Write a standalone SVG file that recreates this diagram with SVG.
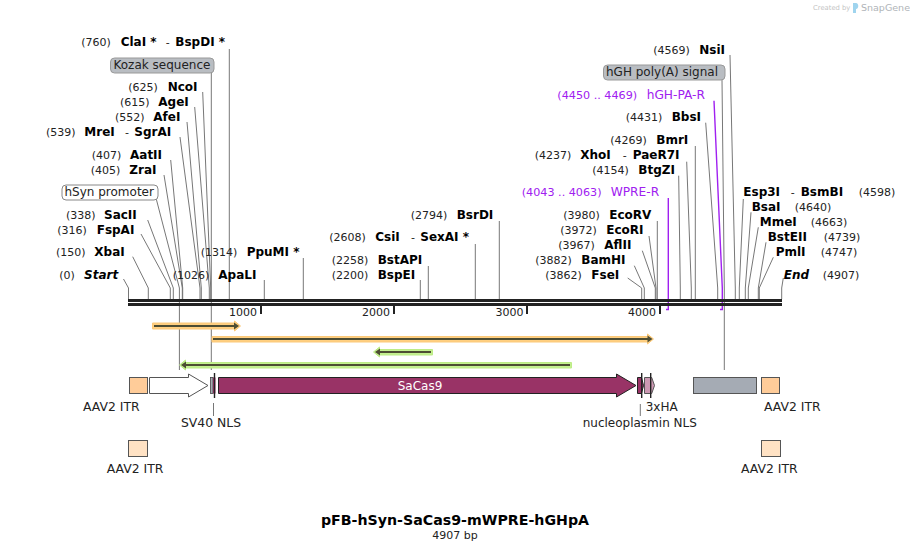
<svg xmlns="http://www.w3.org/2000/svg" width="910" height="551" viewBox="0 0 910 551">
<style>
text{font-family:"DejaVu Sans","Verdana",sans-serif;fill:#111}
.n{font-size:11px;fill:#222}
.b{font-size:12px;font-weight:bold;fill:#000}
.e{font-size:12px;font-weight:bold;font-style:italic;fill:#000}
.f{font-size:12px;fill:#222}
.w{font-size:12.4px;fill:#222}
.p{font-size:12.2px;fill:#a020f0}
.pn{font-size:11.2px;fill:#a020f0}
.c{fill:none;stroke:#777;stroke-width:1}
.cp{fill:none;stroke:#a020f0;stroke-width:1.4}
.o{fill:#ffcf80;stroke:#fbc97a;stroke-width:1}
.g{fill:#c4f08f;stroke:#bdec86;stroke-width:1}
.d{stroke:#4d4d33;stroke-width:2}
.h{fill:#4d4d33}
.s{stroke:#555;stroke-width:1}
.k{stroke:#222;stroke-width:1.4}
</style>
<g id="watermark">
<text x="813" y="10" style="font-size:6.8px;fill:#c4c4c4">Created by</text>
<path d="M853 3h3c3 0 3 6 0 6v4h-3z" fill="#9fd4ee"/>
<text x="861" y="11" style="font-size:9.5px;fill:#b0b4b8">SnapGene</text>
</g>
<g id="connectors">
<path class="c" d="M123.5 279L128.5 288V299"/>
<path class="c" d="M132.7 256.7L148.3 288V299"/>
<path class="c" d="M141 234L170.3 288V299"/>
<path class="c" d="M147.7 220L173.3 288V299"/>
<path class="c" d="M156 198L179.4 288V370"/>
<path class="c" d="M164 175L182.3 288V299"/>
<path class="c" d="M170.7 160L182.7 288V299"/>
<path class="c" d="M180 137L200 288V299"/>
<path class="c" d="M187 122L201.3 288V299"/>
<path class="c" d="M194.7 107L209.3 288V299"/>
<path class="c" d="M202.7 92L210.7 288V299"/>
<path class="c" d="M211.3 73V370"/>
<path class="c" d="M229.3 49V299"/>
<path class="c" d="M264.3 280V299"/>
<path class="c" d="M303.3 258V299"/>
<path class="c" d="M420.3 280V299"/>
<path class="c" d="M428.3 266V299"/>
<path class="c" d="M475.3 244V299"/>
<path class="c" d="M499.3 221V299"/>
<path class="c" d="M627.7 278L641.7 288V299"/>
<path class="c" d="M634.3 265.7L644.3 288V299"/>
<path class="c" d="M642.3 250.7L655.3 288V299"/>
<path class="c" d="M649 236L656 288V299"/>
<path class="c" d="M657.3 221V299"/>
<path class="c" d="M678.7 175.7L680.3 288V299"/>
<path class="c" d="M686.7 161.7L691.3 288V299"/>
<path class="c" d="M695.3 146V299"/>
<path class="c" d="M705.7 122.7L717.7 288V299"/>
<path class="c" d="M722 80L724.3 288V370"/>
<path class="c" d="M730 55L735.3 288V299"/>
<path class="c" d="M743.3 199L739.3 288V299"/>
<path class="c" d="M751 212.3L745.3 288V299"/>
<path class="c" d="M758.3 227.3L748.3 288V299"/>
<path class="c" d="M766 242.3L758.3 288V299"/>
<path class="c" d="M773.3 257.3L759.3 288V299"/>
<path class="c" d="M783.3 278L781.7 288V299"/>
<path class="c" d="M213.5 403V416"/>
<path class="c" d="M640.3 404V416"/>
<path class="cp" d="M668.3 198V309.5H666"/>
<path class="cp" d="M714 100.7L722.3 288V309.5H720"/>
</g>
<g id="backbone">
<rect x="128" y="299" width="654" height="3" fill="#222"/>
<rect x="128" y="303" width="654" height="3" fill="#222"/>
<rect x="260" y="306" width="2" height="8" fill="#222"/>
<rect x="393" y="306" width="2" height="8" fill="#222"/>
<rect x="526" y="306" width="2" height="8" fill="#222"/>
<rect x="659" y="306" width="2" height="8" fill="#222"/>
<text class="n" x="257" y="316" text-anchor="end">1000</text>
<text class="n" x="390" y="316" text-anchor="end">2000</text>
<text class="n" x="523.5" y="316" text-anchor="end">3000</text>
<text class="n" x="656" y="316" text-anchor="end">4000</text>
</g>
<g id="Start"><text class="n" x="59.3" y="279">(0)</text><text class="e" x="84" y="279">Start</text></g>
<g id="XbaI"><text class="n" x="56" y="256">(150)</text><text class="b" x="94.3" y="256">XbaI</text></g>
<g id="FspAI"><text class="n" x="57.3" y="234">(316)</text><text class="b" x="96.7" y="234">FspAI</text></g>
<g id="SacII"><text class="n" x="66" y="219">(338)</text><text class="b" x="104" y="219">SacII</text></g>
<g id="hSyn-promoter-label"><rect x="62" y="185" width="96" height="15" rx="4" fill="#fff" stroke="#888"/><text class="f" x="64.5" y="196">hSyn promoter</text></g>
<g id="ZraI"><text class="n" x="90.7" y="174">(405)</text><text class="b" x="129.3" y="174">ZraI</text></g>
<g id="AatII"><text class="n" x="91.7" y="159">(407)</text><text class="b" x="130" y="159">AatII</text></g>
<g id="MreI"><text class="n" x="46" y="136">(539)</text><text class="b" x="84.3" y="136">MreI</text><text class="n" x="125" y="136">-</text><text class="b" x="134.3" y="136">SgrAI</text></g>
<g id="AfeI"><text class="n" x="115" y="121">(552)</text><text class="b" x="153.3" y="121">AfeI</text></g>
<g id="AgeI"><text class="n" x="120" y="106">(615)</text><text class="b" x="158.3" y="106">AgeI</text></g>
<g id="NcoI"><text class="n" x="128.3" y="91">(625)</text><text class="b" x="167.7" y="91">NcoI</text></g>
<g id="Kozak-label"><rect x="110.5" y="58" width="103.5" height="15" rx="4" fill="#b9bdc2" stroke="#999"/><text class="f" x="113.5" y="69">Kozak sequence</text></g>
<g id="ClaI"><text class="n" x="81.3" y="46">(760)</text><text class="b" x="120.7" y="46">ClaI *</text><text class="n" x="165.7" y="46">-</text><text class="b" x="175.3" y="46">BspDI *</text></g>
<g id="ApaLI"><text class="n" x="172.7" y="279">(1026)</text><text class="b" x="218.3" y="279">ApaLI</text></g>
<g id="PpuMI"><text class="n" x="200.7" y="256">(1314)</text><text class="b" x="246.7" y="256">PpuMI *</text></g>
<g id="BspEI"><text class="n" x="331.7" y="279">(2200)</text><text class="b" x="377.7" y="279">BspEI</text></g>
<g id="BstAPI"><text class="n" x="331.7" y="264">(2258)</text><text class="b" x="377.7" y="264">BstAPI</text></g>
<g id="CsiI"><text class="n" x="329.3" y="241">(2608)</text><text class="b" x="375.3" y="241">CsiI</text><text class="n" x="411" y="241">-</text><text class="b" x="420.3" y="241">SexAI *</text></g>
<g id="BsrDI"><text class="n" x="410.7" y="219">(2794)</text><text class="b" x="456.7" y="219">BsrDI</text></g>
<g id="FseI"><text class="n" x="545.3" y="279">(3862)</text><text class="b" x="591.3" y="279">FseI</text></g>
<g id="BamHI"><text class="n" x="535.3" y="264">(3882)</text><text class="b" x="581.3" y="264">BamHI</text></g>
<g id="AflII"><text class="n" x="558.3" y="249">(3967)</text><text class="b" x="604.3" y="249">AflII</text></g>
<g id="EcoRI"><text class="n" x="560.3" y="234">(3972)</text><text class="b" x="606.3" y="234">EcoRI</text></g>
<g id="EcoRV"><text class="n" x="563.3" y="219">(3980)</text><text class="b" x="609.3" y="219">EcoRV</text></g>
<g id="WPRE-R"><text class="pn" x="521.7" y="196">(4043 .. 4063)</text><text class="p" x="610.7" y="196">WPRE-R</text></g>
<g id="BtgZI"><text class="n" x="592.3" y="174">(4154)</text><text class="b" x="638.3" y="174">BtgZI</text></g>
<g id="XhoI"><text class="n" x="534.7" y="159">(4237)</text><text class="b" x="580.3" y="159">XhoI</text><text class="n" x="622.7" y="159">-</text><text class="b" x="632.7" y="159">PaeR7I</text></g>
<g id="BmrI"><text class="n" x="610.3" y="144">(4269)</text><text class="b" x="656.3" y="144">BmrI</text></g>
<g id="BbsI"><text class="n" x="625.7" y="121">(4431)</text><text class="b" x="671.7" y="121">BbsI</text></g>
<g id="hGH-PA-R"><text class="pn" x="557.3" y="99">(4450 .. 4469)</text><text class="p" x="646.7" y="99">hGH-PA-R</text></g>
<g id="hGH-label"><rect x="603.5" y="65" width="121.5" height="15" rx="4" fill="#b9bdc2" stroke="#999"/><text class="f" x="606" y="76">hGH poly(A) signal</text></g>
<g id="NsiI"><text class="n" x="653.3" y="54">(4569)</text><text class="b" x="699.3" y="54">NsiI</text></g>
<g id="Esp3I"><text class="b" x="743.3" y="196">Esp3I</text><text class="n" x="790.7" y="196">-</text><text class="b" x="800.7" y="196">BsmBI</text><text class="n" x="858.7" y="196">(4598)</text></g>
<g id="BsaI"><text class="b" x="751.7" y="211">BsaI</text><text class="n" x="794.7" y="211">(4640)</text></g>
<g id="MmeI"><text class="b" x="759.7" y="226">MmeI</text><text class="n" x="810.7" y="226">(4663)</text></g>
<g id="BstEII"><text class="b" x="767.7" y="241">BstEII</text><text class="n" x="823.7" y="241">(4739)</text></g>
<g id="PmlI"><text class="b" x="775.7" y="256">PmlI</text><text class="n" x="820.7" y="256">(4747)</text></g>
<g id="End"><text class="e" x="783.7" y="279">End</text><text class="n" x="822.7" y="279">(4907)</text></g>
<g id="primer-1"><path class="o" d="M152.5 323H234.5V321L240.5 326L234.5 331V329H152.5z"/><path class="d" d="M154 326H235"/><path class="h" d="M234 322.5L239 326L234 329.5z"/></g>
<g id="primer-2"><path class="o" d="M212 336.5H647.5V334L653.5 339L647.5 344V342H212z"/><path class="d" d="M213 339H648"/><path class="h" d="M647.5 335.5L652.5 339L647.5 342.5z"/></g>
<g id="primer-3"><path class="g" d="M432.5 349.5H379.5V347L373.5 352L379.5 357V355H432.5z"/><path class="d" d="M431 352H379"/><path class="h" d="M380 348.5L375 352L380 355.5z"/></g>
<g id="primer-4"><path class="g" d="M571.5 362.5H185.5V360L179.5 365L185.5 370V368H571.5z"/><path class="d" d="M570 365H185"/><path class="h" d="M186 361.5L181 365L186 368.5z"/></g>
<g id="AAV2-ITR-1"><rect class="s" x="129.5" y="377.5" width="18" height="16" fill="#ffcc99"/><text class="w" x="83" y="411">AAV2 ITR</text></g>
<g id="hSyn-promoter"><path class="s" fill="#fff" d="M149.5 377.5H188.5V374L208 385.5L188.5 397V393.5H149.5z"/></g>
<g id="SV40-NLS"><rect x="210.5" y="377.5" width="2.5" height="16" fill="#a5abb4" stroke="#444" stroke-width=".8"/><rect x="213" y="377.5" width="2.5" height="16" fill="#993366"/><path class="k" d="M214.5 373V398"/><text class="w" x="181" y="427">SV40 NLS</text></g>
<g id="SaCas9"><path fill="#993366" stroke="#222" stroke-width="1" d="M218.5 377.5H616.5V374L636 385.5L616.5 397V393.5H218.5z"/><text x="420" y="389.5" text-anchor="middle" style="font-size:12px;fill:#fff">SaCas9</text></g>
<g id="nucleoplasmin-NLS"><path fill="#993366" stroke="#222" d="M637.5 377.5H641.5L643.5 385.5L641.5 393.5H637.5z"/><path class="k" d="M641.7 373V398"/><text class="f" x="582.7" y="427">nucleoplasmin NLS</text></g>
<g id="HA3"><path fill="#cc99b3" stroke="#555" d="M644.5 377.5H651.7L654.5 385.5L651.7 393.5H644.5z"/><path class="k" d="M650.7 373V398"/><text class="f" x="645.7" y="411">3xHA</text></g>
<g id="hGH-polyA"><rect class="s" x="693.5" y="377.5" width="63" height="16" fill="#a5abb4"/></g>
<g id="AAV2-ITR-2"><rect class="s" x="761.5" y="377.5" width="18" height="16" fill="#ffcc99"/><text class="w" x="764" y="411">AAV2 ITR</text></g>
<g id="AAV2-ITR-3"><rect class="s" x="128.5" y="440.5" width="19" height="16" fill="#ffe2c4"/><text class="w" x="106.7" y="473">AAV2 ITR</text></g>
<g id="AAV2-ITR-4"><rect class="s" x="761.5" y="440.5" width="19" height="16" fill="#ffe2c4"/><text class="w" x="741" y="473">AAV2 ITR</text></g>
<g id="title"><text x="455" y="525" text-anchor="middle" style="font-size:14.2px;font-weight:bold;fill:#000">pFB-hSyn-SaCas9-mWPRE-hGHpA</text><text x="455" y="539" text-anchor="middle" style="font-size:11px;fill:#222">4907 bp</text></g>
</svg>
